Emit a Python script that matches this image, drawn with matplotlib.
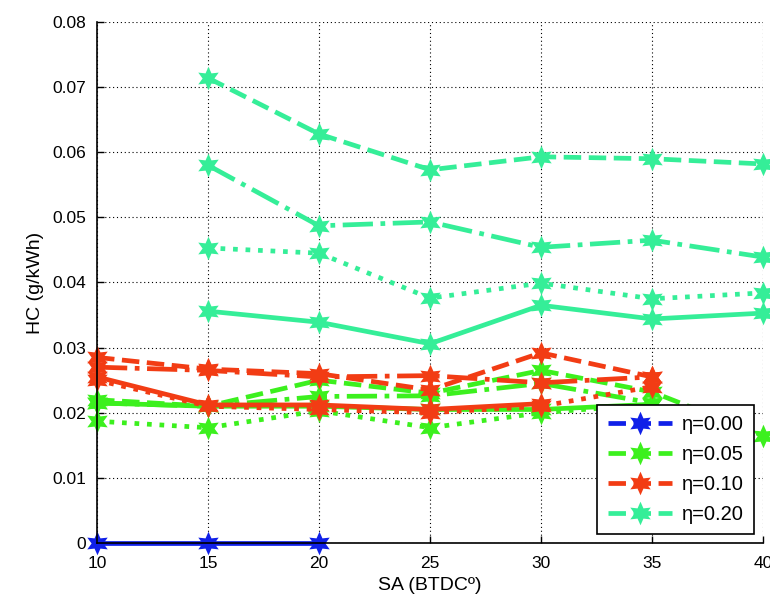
import numpy as np
import matplotlib.pyplot as plt
from matplotlib.lines import Line2D

plt.rcParams['font.family'] = ['Liberation Sans', 'DejaVu Sans']

# spark advance (deg BTDC)
sa = [10, 15, 20, 25, 30, 35, 40]

# eta = 0.00
hc_000 = [0.0, 0.0, 0.0]

# eta = 0.05
hc_005_solid = [0.0215, 0.0210, 0.0210, 0.0205, 0.0205, 0.0213]
hc_005_dash = [0.0220, 0.0210, 0.0250, 0.0230, 0.0265, 0.0232, 0.0165]
hc_005_dashdot = [0.0215, 0.0210, 0.0225, 0.0226, 0.0245, 0.0215]
hc_005_dot = [0.0187, 0.0177, 0.0203, 0.0177, 0.0200, 0.0213]

# eta = 0.10
hc_010_solid = [0.0255, 0.0212, 0.0212, 0.0205, 0.0214]
hc_010_dash = [0.0285, 0.0267, 0.0260, 0.0235, 0.0292, 0.0255]
hc_010_dashdot = [0.0270, 0.0265, 0.0255, 0.0257, 0.0246, 0.0255]
hc_010_dot = [0.0250, 0.0210, 0.0205, 0.0200, 0.0210, 0.0240]

# eta = 0.20 (starts at 15 deg)
hc_020_dash = [0.0714, 0.0628, 0.0573, 0.0593, 0.0590, 0.0582]
hc_020_dashdot = [0.0580, 0.0487, 0.0493, 0.0454, 0.0465, 0.0439]
hc_020_dot = [0.0453, 0.0445, 0.0376, 0.0399, 0.0375, 0.0384]
hc_020_solid = [0.0356, 0.0339, 0.0306, 0.0365, 0.0344, 0.0353]

labels = ['\u03b7=0.00', '\u03b7=0.05', '\u03b7=0.10', '\u03b7=0.20']
c_blue = '#1020e8'
c_green = '#3cf01e'
c_red = '#f23c14'
c_aqua = '#35ee98'

star = (6, 1, 0)
lw = 3.4
ms = 17


def draw(ax, y, color, ls, start=10):
    x = sa[sa.index(start):sa.index(start) + len(y)]
    ax.plot(x, y, color=color, linestyle=ls, linewidth=lw,
            marker=star, markersize=ms, markeredgewidth=0, clip_on=False)


fig = plt.figure(figsize=(7.7, 6.02), dpi=100)
ax = fig.add_axes([0.126, 0.098, 0.865, 0.8655])

draw(ax, hc_000, c_blue, '-')

draw(ax, hc_005_dot, c_green, ':')
draw(ax, hc_005_solid, c_green, '-')
draw(ax, hc_005_dashdot, c_green, '-.')
draw(ax, hc_005_dash, c_green, '--')

draw(ax, hc_010_dot, c_red, ':')
draw(ax, hc_010_solid, c_red, '-')
draw(ax, hc_010_dashdot, c_red, '-.')
draw(ax, hc_010_dash, c_red, '--')

draw(ax, hc_020_solid, c_aqua, '-', 15)
draw(ax, hc_020_dot, c_aqua, ':', 15)
draw(ax, hc_020_dashdot, c_aqua, '-.', 15)
draw(ax, hc_020_dash, c_aqua, '--', 15)

ax.set_xlim(10, 40)
ax.set_ylim(0, 0.08)
ax.set_xticks(sa)
ax.set_yticks(np.arange(0, 0.081, 0.01))
ax.set_yticklabels(['0', '0.01', '0.02', '0.03', '0.04', '0.05', '0.06', '0.07', '0.08'])
ax.tick_params(direction='in', length=5, labelsize=12.5, width=1)
ax.tick_params(axis='x', pad=9)
ax.tick_params(axis='y', pad=8)
ax.grid(True, color='black', linestyle=(0, (1, 2.5)), linewidth=0.8)
ax.spines['top'].set_visible(False)
ax.spines['right'].set_visible(False)
for s in ['left', 'bottom']:
    ax.spines[s].set_linewidth(1.2)
ax.set_axisbelow(True)

ax.set_xlabel('SA (BTDC\u00ba)', fontsize=14, labelpad=5)
ax.set_ylabel('HC (g/kWh)', fontsize=14, labelpad=6)

handles = [Line2D([], [], color=c, linestyle='--', linewidth=lw,
                  marker=star, markersize=ms, markeredgewidth=0)
           for c in [c_blue, c_green, c_red, c_aqua]]
leg = ax.legend(handles, labels, loc='lower right', fontsize=14.5,
                handlelength=3.2, fancybox=False, framealpha=1,
                edgecolor='black', borderaxespad=0.45, labelspacing=0.55,
                borderpad=0.5, handletextpad=0.5)
leg.get_frame().set_linewidth(1.2)

fig.savefig('out.png', dpi=100)
